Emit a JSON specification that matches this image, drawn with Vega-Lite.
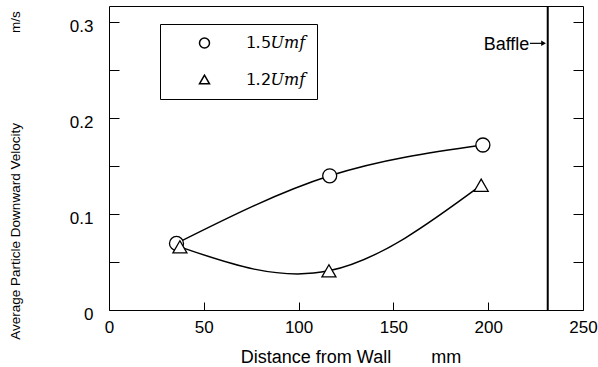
{
  "$schema": "https://vega.github.io/schema/vega-lite/v6.json",
  "width": 474,
  "height": 304,
  "autosize": {"type": "none"},
  "padding": {"left": 109, "top": 6, "right": 15, "bottom": 57},
  "background": "white",
  "config": {
    "view": {"stroke": "black", "strokeWidth": 1},
    "font": "Liberation Sans",
    "point": {"opacity": 1},
    "axis": {"grid": false, "domain": false, "tickColor": "black", "tickWidth": 1, "labelColor": "black", "titleColor": "black", "titleFontWeight": "normal", "labelFont": "Liberation Sans", "titleFont": "Liberation Sans", "labelFlush": false, "labelOverlap": false}
  },
  "datasets": {
    "curves": [
      {"series": "1.5Umf", "distance": 35.6, "velocity": 0.0694},
      {"series": "1.5Umf", "distance": 116.4, "velocity": 0.1398},
      {"series": "1.5Umf", "distance": 197.2, "velocity": 0.1719},
      {"series": "1.2Umf", "distance": 37.4, "velocity": 0.0658},
      {"series": "1.2Umf", "distance": 116.0, "velocity": 0.0408},
      {"series": "1.2Umf", "distance": 196.3, "velocity": 0.130}
    ],
    "baffle": [{"distance": 231.4}],
    "baffleLabel": [{"distance": 221.7, "velocity": 0.2708, "text": "Baffle"}],
    "arrow": [{"distance": 222.0, "distance2": 229.2, "velocity": 0.2778}]
  },
  "layer": [
    {
      "data": {"name": "curves"},
      "mark": {"type": "line", "interpolate": "natural", "color": "black", "strokeWidth": 1.5},
      "encoding": {
        "x": {
          "field": "distance", "type": "quantitative",
          "scale": {"domain": [0, 250], "nice": false, "zero": false},
          "axis": {
            "orient": "bottom", "values": [0, 50, 100, 150, 200, 250],
            "tickSize": -8, "labelPadding": 17, "labelFontSize": 17,
            "title": "Distance from Wall\u00a0\u00a0\u00a0\u00a0\u00a0\u00a0\u00a0\u00a0mm",
            "titleFontSize": 18, "titleX": 241.5, "titleY": 52, "titleBaseline": "alphabetic", "titleAlign": "center"
          }
        },
        "y": {
          "field": "velocity", "type": "quantitative",
          "scale": {"domain": [0, 0.3167], "nice": false},
          "axis": {
            "orient": "left", "values": [0, 0.05, 0.1, 0.15, 0.2, 0.25, 0.3],
            "format": ".2~f",
            "labelExpr": "indexof(['0','0.1','0.2','0.3'], datum.label) >= 0 ? datum.label : ''",
            "tickSize": -10, "labelPadding": 26, "labelOffset": 4, "labelFontSize": 17,
            "title": "Average Particle Downward Velocity\u00a0\u00a0\u00a0\u00a0\u00a0\u00a0\u00a0\u00a0\u00a0\u00a0\u00a0\u00a0\u00a0\u00a0\u00a0\u00a0\u00a0\u00a0\u00a0\u00a0\u00a0\u00a0\u00a0\u00a0m/s",
            "titleFontSize": 13.5, "titleAngle": -90, "titleX": -94, "titleY": 169, "titleBaseline": "middle", "titleAlign": "center"
          }
        },
        "detail": {"field": "series"}
      }
    },
    {
      "data": {"name": "curves"},
      "mark": {"type": "point", "filled": true, "fill": "white", "stroke": "black", "strokeWidth": 1.3, "size": 196},
      "encoding": {
        "x": {"field": "distance", "type": "quantitative"},
        "y": {
          "field": "velocity", "type": "quantitative",
          "axis": {"orient": "right", "values": [0.05, 0.1, 0.15, 0.2, 0.25, 0.3], "tickSize": -10, "labels": false, "title": null, "domain": false}
        },
        "shape": {
          "field": "series", "type": "nominal",
          "scale": {"domain": ["1.5Umf", "1.2Umf"], "range": ["circle", "triangle-up"]},
          "legend": {
            "title": null, "orient": "none", "legendX": 51, "legendY": 18,
            "strokeColor": "black", "fillColor": "white", "padding": 11, "rowPadding": 20.5,
            "symbolOffset": 25.5, "labelOffset": 33,
            "labelFontSize": 16, "labelFont": "DejaVu Serif", "labelColor": "black",
            "labelExpr": "datum.label === '1.5Umf' ? '𝟣.𝟧𝑈𝑚𝑓\u00a0\u00a0\u00a0\u00a0\u00a0\u00a0\u00a0' : '𝟣.𝟤𝑈𝑚𝑓\u00a0\u00a0\u00a0\u00a0\u00a0\u00a0\u00a0'"
          }
        }
      }
    },
    {
      "data": {"name": "baffle"},
      "mark": {"type": "rule", "color": "black", "strokeWidth": 2},
      "encoding": {"x": {"field": "distance", "type": "quantitative"}}
    },
    {
      "data": {"name": "baffleLabel"},
      "mark": {"type": "text", "align": "right", "baseline": "alphabetic", "fontSize": 18, "font": "Liberation Sans", "color": "black"},
      "encoding": {
        "x": {"field": "distance", "type": "quantitative"},
        "y": {"field": "velocity", "type": "quantitative", "axis": null},
        "text": {"field": "text"}
      }
    },
    {
      "data": {"name": "arrow"},
      "mark": {"type": "rule", "color": "black", "strokeWidth": 1.2},
      "encoding": {
        "x": {"field": "distance", "type": "quantitative"},
        "x2": {"field": "distance2"},
        "y": {"field": "velocity", "type": "quantitative", "axis": null}
      }
    },
    {
      "data": {"name": "arrow"},
      "mark": {"type": "point", "shape": "triangle-right", "filled": true, "color": "black", "size": 30},
      "encoding": {
        "x": {"field": "distance2", "type": "quantitative"},
        "y": {"field": "velocity", "type": "quantitative", "axis": null}
      }
    }
  ],
  "resolve": {"axis": {"y": "independent"}}
}
